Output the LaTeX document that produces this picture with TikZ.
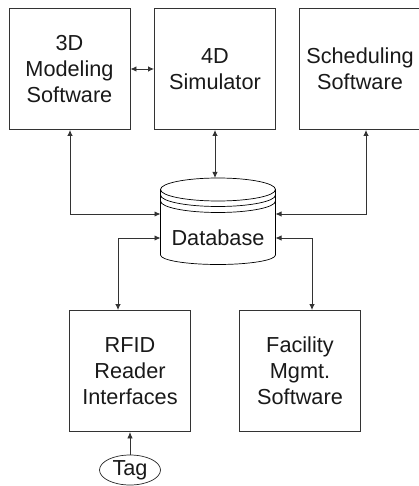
\documentclass[tikz,border=0pt]{standalone}
\usepackage{fontspec}
\setmainfont{Liberation Sans}
\usetikzlibrary{arrows.meta,shapes.geometric}
\begin{document}
\begin{tikzpicture}[x=1pt,y=-1pt,
  boxn/.style={draw=black!80,line width=0.9pt,minimum width=121pt,minimum height=121pt,inner sep=0pt,align=center,font=\fontsize{21.7}{26}\selectfont,text=black!90},
  link/.style={draw=black!80,line width=0.9pt,{Latex[length=6pt,width=5.5pt]}-{Latex[length=6pt,width=5.5pt]}},
  uplink/.style={draw=black!80,line width=0.9pt,-{Latex[length=6.5pt,width=5.5pt]}},
  dbline/.style={draw=black,line width=0.7pt}]
\useasboundingbox (0,0) rectangle (419,486);
\clip (0,0) rectangle (419,486);
\node[boxn] (m3d) at (69.5,69) {3D\\Modeling\\Software};
\node[boxn] (m4d) at (215,69) {4D\\Simulator};
\node[boxn] (sch) at (360,69) {Scheduling\\Software};
\node[boxn] (rfid) at (130,371) {RFID\\Reader\\Interfaces};
\node[boxn] (fac) at (300,371) {Facility\\Mgmt.\\Software};
\node[draw=black!85,line width=0.7pt,ellipse,minimum width=61pt,minimum height=30pt,inner sep=0pt,font=\fontsize{21.7}{26}\selectfont,text=black!90] (tag) at (130,470) {Tag};
% database
\node[minimum width=115pt,minimum height=86pt,inner sep=0pt,outer sep=0pt] (db) at (218,221) {};
\draw[dbline] (160.5,189.5) -- (160.5,255) arc[start angle=180,end angle=360,x radius=57.5,y radius=-9.5] -- (275.5,189.5);
\draw[dbline] (218,189.5) ellipse[x radius=57.5,y radius=11.5];
\draw[dbline] (160.5,195) arc[start angle=180,end angle=360,x radius=57.5,y radius=-11.5];
\draw[dbline] (160.5,201) arc[start angle=180,end angle=360,x radius=57.5,y radius=-11.5];
\node[font=\fontsize{21.7}{26}\selectfont,text=black!90,inner sep=0pt] (dbt) at (218,237.5) {Database};
% routing helpers
\coordinate (rowA) at (0,214);
\coordinate (rowB) at (0,238);
\coordinate (colA) at (70,0);
\coordinate (colB) at (366,0);
\coordinate (colC) at (118,0);
\coordinate (colD) at (312,0);
\coordinate (colE) at (215,0);
% connectors
\draw[link] (m3d.east) -- (m4d.west);
\draw[link] (m4d.south) -- (colE |- db.north);
\draw[link] (colA |- m3d.south) |- (db.west |- rowA);
\draw[link] (colB |- sch.south) |- (db.east |- rowA);
\draw[link] (db.west |- rowB) -| (colC |- rfid.north);
\draw[link] (db.east |- rowB) -| (colD |- fac.north);
\draw[uplink] (tag.north) -- (rfid.south);
\end{tikzpicture}
\end{document}
